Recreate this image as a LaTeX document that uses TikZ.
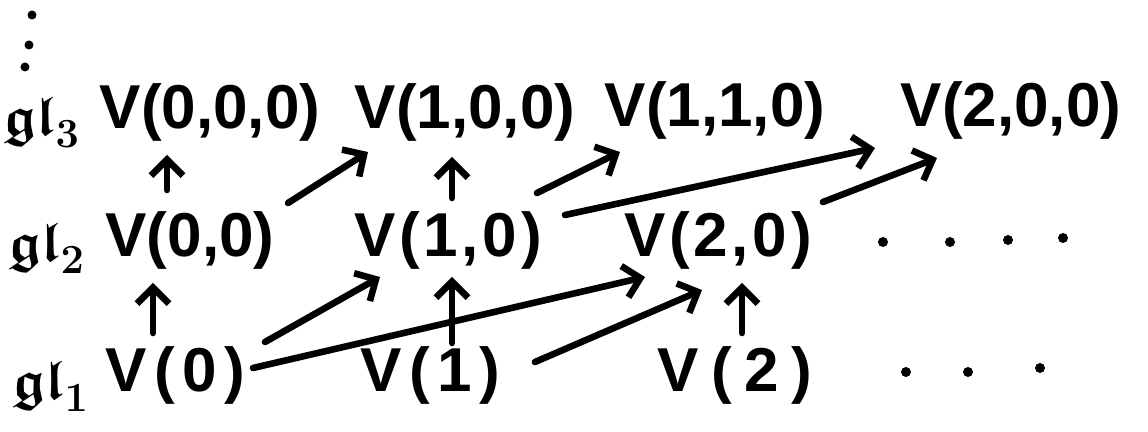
\documentclass[tikz,border=0pt]{standalone}
\usepackage{amssymb}
\usepackage{fontspec}
\setmainfont{Liberation Sans}
\usetikzlibrary{arrows.meta,calc}
\begin{document}
\begin{tikzpicture}[x=0.5pt,y=-0.5pt,
  rep/.style={inner sep=0pt,font=\fontsize{31}{31}\selectfont\bfseries},
  wide/.style={font=\fontsize{31}{31}\selectfont\bfseries\addfontfeature{LetterSpace=#1}},
  alg/.style={inner sep=0pt,font=\fontsize{28}{28}\selectfont\boldmath},
  arr/.style={line width=3.3pt,line cap=round,-{Straight Barb[length=8pt,width=16pt,line width=3.3pt]}},
  dot/.style={fill=black,draw=none}]
\useasboundingbox (0,0) rectangle (1148,432);
% vertical dots
\fill[dot] (32,15) circle (4.5) (29,45) circle (4.5) (25,67) circle (4.5);
% algebra labels
\node[alg,anchor=west] (g3) at (3,122) {$\mathfrak{gl}_3$};
\node[alg,anchor=west] (g2) at (8,248) {$\mathfrak{gl}_2$};
\node[alg,anchor=west] (g1) at (12,386) {$\mathfrak{gl}_1$};
% row 3
\node[rep] (v000) at (210,112) {V(0,0,0)};
\node[rep] (v100) at (465,112) {V(1,0,0)};
\node[rep] (v110) at (715,110) {V(1,1,0)};
\node[rep] (v200) at (1011,110) {V(2,0,0)};
% row 2
\node[rep] (v00) at (190,240) {V(0,0)};
\node[rep,wide=6] (v10) at (448,240) {V(1,0)};
\node[rep,wide=6] (v20) at (718,240) {V(2,0)};
% row 1
\node[rep,wide=12] (v0) at (175,375) {V(0)};
\node[rep,wide=12] (v1) at (430,375) {V(1)};
\node[rep,wide=20] (v2) at (735,375) {V(2)};
% dots
\fill[dot] (883,242) circle (5) (950,242) circle (5) (1008,240) circle (5) (1063,238) circle (5);
\fill[dot] (906,372) circle (5) (968,372) circle (5) (1040,368) circle (5);
% arrows gl1 -> gl2
\draw[arr] ($(v0)+(-22,-42)$) -- ($(v00)+(-37,43)$);
\draw[arr] ($(v0)+(90,-33)$) -- ($(v10)+(-68,37)$);
\draw[arr] ($(v0)+(78,-7)$) -- ($(v20)+(-73,37)$);
\draw[arr] ($(v1)+(22,-32)$) -- ($(v10)+(4,37)$);
\draw[arr] ($(v1)+(105,-13)$) -- ($(v20)+(-16,50)$);
\draw[arr] ($(v2)+(7,-42)$) -- ($(v20)+(24,43)$);
% arrows gl2 -> gl3
\draw[arr] ($(v00)+(-23,-50)$) -- ($(v000)+(-43,43)$);
\draw[arr] ($(v00)+(98,-37)$) -- ($(v100)+(-97,40)$);
\draw[arr] ($(v10)+(4,-42)$) -- ($(v100)+(-13,45)$);
\draw[arr] ($(v10)+(89,-47)$) -- ($(v110)+(-95,42)$);
\draw[arr] ($(v10)+(117,-25)$) -- ($(v200)+(-136,38)$);
\draw[arr] ($(v20)+(105,-38)$) -- ($(v200)+(-74,48)$);
\end{tikzpicture}
\end{document}
